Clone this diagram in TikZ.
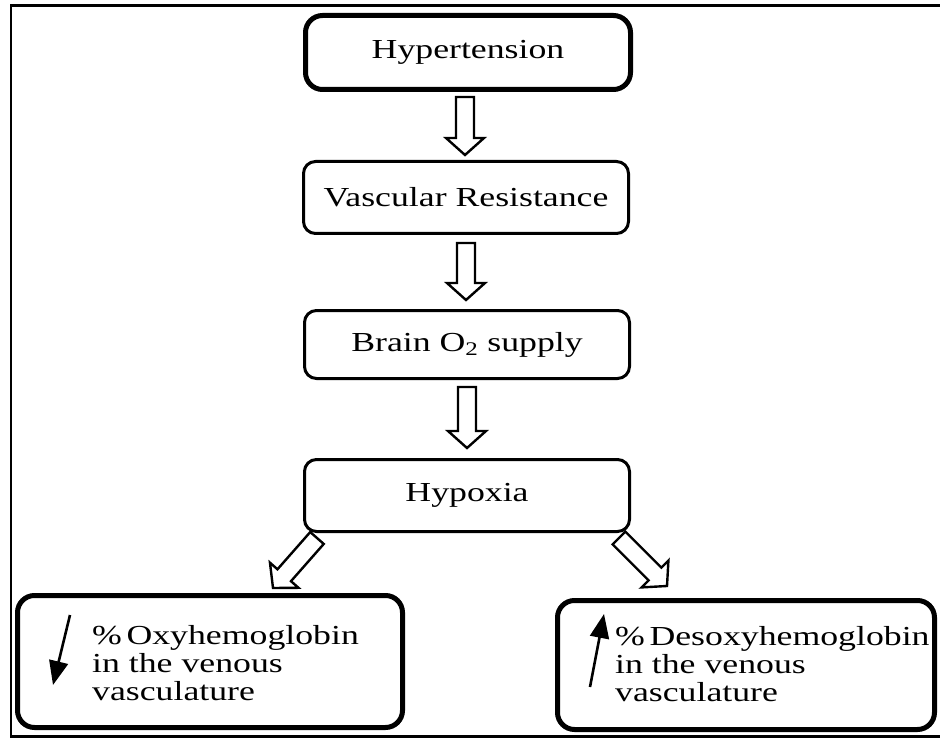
\documentclass[tikz,border=0pt]{standalone}
\usepackage{fontspec}
\setmainfont{Liberation Serif}[FakeStretch=1.3]
\usetikzlibrary{positioning, arrows.meta, calc}

\tikzset{
  flowbox/.style={draw, rounded corners=12pt, line width=3pt, align=center,
    inner sep=0pt, minimum width=325pt, minimum height=72pt,
    font=\fontsize{27.5}{28}\selectfont},
  heavybox/.style={flowbox, line width=5pt, rounded corners=17pt},
  hollowarrow/.style={draw, fill=white, line width=2.4pt, line join=miter},
  trendarrow/.style={line width=2.6pt, -{Triangle[length=24pt, width=19pt]}},
  boxtext/.style={anchor=west, align=left, inner sep=0pt,
    font=\fontsize{27.5}{28}\selectfont}
}

% hollow block arrow between two named coordinates
\newcommand{\blockarrow}[2]{%
  \draw[hollowarrow] ($(#1)!9pt!90:(#2)$) -- ($(#2)!17pt!(#1)!9pt!90:(#2)$)
    -- ($(#2)!17pt!(#1)!19pt!90:(#2)$) -- (#2)
    -- ($(#2)!17pt!(#1)!19pt!-90:(#2)$) -- ($(#2)!17pt!(#1)!9pt!-90:(#2)$)
    -- ($(#1)!9pt!-90:(#2)$) -- cycle;}

\begin{document}
\begin{tikzpicture}[x=1pt, y=-1pt]
  \fill[white] (0,0) rectangle (940,738);
  \useasboundingbox (0,0) rectangle (940,738);
  \draw[line width=2.5pt] (11,5.5) rectangle (960,736.5);

  % main chain
  \node[heavybox, minimum height=74pt] (hyper) at (468,52.5) {Hypertension};
  \node[flowbox, below=68pt of hyper, xshift=-2pt] (vasc) {Vascular Resistance};
  \node[flowbox, below=74pt of vasc, minimum height=68pt, xshift=1pt] (brain)
    {Brain O\textsubscript{2} supply};
  \node[flowbox, below=78pt of brain] (hypoxia) {Hypoxia};

  % outcome boxes
  \node[heavybox, minimum width=385pt, minimum height=132pt] (oxy) at (210,661.5) {};
  \node[heavybox, minimum width=377pt, minimum height=129pt] (desoxy) at (746,665) {};
  \node[boxtext] (oxytext) at ($(oxy.west)+(77,2)$)
    {\%\,Oxyhemoglobin\\in the venous\\vasculature};
  \node[boxtext] (desoxytext) at ($(desoxy.west)+(60,-1)$)
    {\%\,Desoxyhemoglobin\\in the venous\\vasculature};
  \draw[trendarrow] ($(oxy.north west)+(55,22)$) -- ($(oxy.north west)+(38,92)$);
  \draw[trendarrow] ($(desoxy.north west)+(35,89)$) -- ($(desoxy.north west)+(49,16)$);

  % block arrows
  \coordinate (a1) at ($(hyper.south)+(-3,5)$);
  \coordinate (b1) at ($(vasc.north)+(-1,-5)$);
  \coordinate (a2) at ($(vasc.south)+(0,8)$);
  \coordinate (b2) at ($(brain.north)+(-1,-9)$);
  \coordinate (a3) at ($(brain.south)+(0,7)$);
  \coordinate (b3) at ($(hypoxia.north)+(0,-10)$);
  \coordinate (a4) at ($(hypoxia.south west)+(14,5)$);
  \coordinate (b4) at ($(a4)+(-44,50)$);
  \coordinate (a5) at ($(hypoxia.south east)+(-12,5)$);
  \coordinate (b5) at ($(a5)+(48,48)$);
  \blockarrow{a1}{b1}
  \blockarrow{a2}{b2}
  \blockarrow{a3}{b3}
  \blockarrow{a4}{b4}
  \blockarrow{a5}{b5}
\end{tikzpicture}
\end{document}
